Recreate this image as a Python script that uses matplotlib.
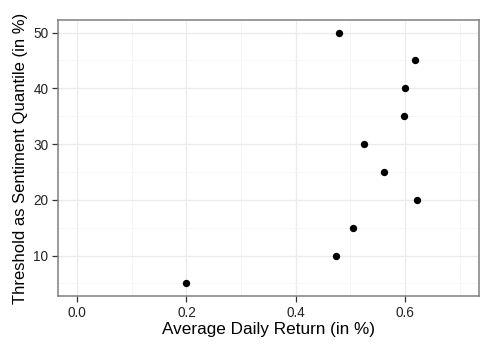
import numpy as np
import matplotlib
matplotlib.use('Agg')
import matplotlib.pyplot as plt

# data
avg_return = [0.2, 0.4734, 0.5057, 0.6226, 0.5615, 0.526, 0.5975, 0.600, 0.6177, 0.4795]
threshold = [5, 10, 15, 20, 25, 30, 35, 40, 45, 50]

x_ticks = [0.0, 0.2, 0.4, 0.6]
x_minor = [0.1, 0.3, 0.5, 0.7]
y_ticks = [10, 20, 30, 40, 50]
y_minor = [5, 15, 25, 35, 45]

plt.rcParams['font.family'] = ['Liberation Sans', 'DejaVu Sans']

fig = plt.figure(figsize=(4.98, 3.49), dpi=100)
ax = fig.add_axes([0.1165, 0.1519, 0.8447, 0.7908])

ax.scatter(avg_return, threshold, s=28, color='black', zorder=3, linewidths=0)

ax.set_xlim(-0.035, 0.735)
ax.set_ylim(2.75, 52.25)
ax.set_xticks(x_ticks)
ax.set_xticklabels(['0.0', '0.2', '0.4', '0.6'])
ax.set_xticks(x_minor, minor=True)
ax.set_yticks(y_ticks)
ax.set_yticks(y_minor, minor=True)

ax.grid(which='major', color='#ebebeb', linewidth=0.9, zorder=0)
ax.grid(which='minor', color='#f5f5f5', linewidth=0.6, zorder=0)
ax.set_axisbelow(True)

for s in ax.spines.values():
    s.set_color('#7f7f7f')
    s.set_linewidth(1.1)

ax.tick_params(which='major', length=4, width=0.9, color='#333333',
               labelsize=9.8, labelcolor='#222222', pad=3)
ax.tick_params(which='minor', length=0)

ax.set_xlabel('Average Daily Return (in %)', fontsize=12.3, labelpad=2)
ax.set_ylabel('Threshold as Sentiment Quantile (in %)', fontsize=12, labelpad=4)

fig.savefig('out.png', dpi=100)
